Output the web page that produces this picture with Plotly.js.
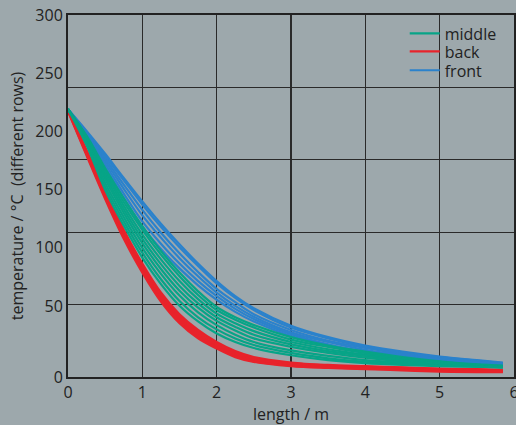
<!DOCTYPE html>
<html>
<head>
<meta charset="utf-8">
<script src="https://cdn.plot.ly/plotly-3.0.1.min.js"></script>
<style>
  html, body { margin: 0; padding: 0; background: #9da8ac; }
  #chart { width: 516px; height: 425px; }
</style>
</head>
<body>
<div id="chart"></div>
<script>
// length / m
var lengthM = [0, 0.25, 0.5, 0.75, 1, 1.25, 1.5, 1.75, 2, 2.25, 2.5, 3, 3.5, 4, 4.5, 5, 5.5, 5.85];

// front rows (blue)
var front1 = [222, 204, 185, 165, 145.5, 127, 110, 94, 79.5, 67, 57, 42.5, 33, 26, 21, 17, 14, 12];
var front2 = [222, 203, 183, 163, 143, 124.5, 107.5, 92, 77.5, 65.5, 55.5, 41, 32, 25, 20, 16.5, 13.5, 11.5];
var front3 = [222, 202, 181, 159.5, 138.5, 119.5, 102.5, 87, 73, 62, 52, 39, 30, 24, 19, 15.5, 13, 11];
var front4 = [222, 201, 179, 156, 134, 115.5, 98.5, 83.5, 70, 59, 50, 37, 29, 22.5, 18, 15, 12.5, 11];
var front5 = [222, 199.5, 176.5, 152, 129, 110.5, 94, 79.5, 67, 56.5, 48, 35.5, 27, 21, 17, 14, 12, 10.5];
var front6 = [222, 198, 174, 148.5, 124.5, 106, 90, 76, 64, 54, 46, 34, 26, 20, 16, 13, 11, 10];

// middle rows (green)
var middle1 = [222, 200, 173, 148, 125, 104.5, 86.5, 71, 58, 49.5, 43, 33, 26, 21, 16.5, 13, 10.5, 9.5];
var middle2 = [222, 199, 171, 145, 122, 101.5, 83.5, 68, 55.5, 47.5, 41, 31, 25, 20, 15.5, 12.5, 10, 9];
var middle3 = [222, 198, 169, 142, 118, 97.5, 79.5, 64.5, 52.5, 44.5, 38, 29, 23, 18.5, 15, 12, 10, 9];
var middle4 = [222, 197, 166.5, 139, 114.5, 93.5, 75.5, 61, 49.5, 41.5, 35, 27, 21.5, 17.5, 14, 11.5, 9.5, 8.5];
var middle5 = [222, 196, 164, 136, 111, 89.5, 71.5, 57.5, 46.5, 38.5, 32, 25, 20, 16, 13, 11, 9, 8.5];
var middle6 = [222, 195, 161, 132.5, 107, 85.5, 67.5, 53.5, 43, 35, 29, 22, 17.5, 14, 12, 10, 9, 8];
var middle7 = [222, 194, 158, 129, 103, 81, 63, 49.5, 39.5, 32, 26.5, 20, 15.5, 12.5, 11, 9.5, 8.5, 8];
var middle8 = [222, 192, 155, 125.5, 99, 77, 59, 46, 36, 29, 24, 18, 14, 11.5, 10, 9, 8.5, 8];

// back rows (red)
var back1 = [222, 188, 154.5, 122, 94, 70, 52, 39, 29, 21.5, 16.5, 12, 10, 9, 8, 7, 6.5, 6];
var back2 = [222, 187, 153, 120.5, 92.5, 68.5, 50.5, 37.5, 28, 20.5, 15.5, 11.5, 9.5, 8.5, 7.5, 6.5, 6, 5.5];
var back3 = [221, 186, 151.5, 119, 91, 67, 49, 36, 26.5, 19.5, 15, 11, 9, 8, 7, 6, 5.5, 5];
var back4 = [221, 185.5, 150.5, 117.5, 89.5, 65.5, 47.5, 34.5, 25.5, 18.5, 14, 10.5, 8.5, 7.5, 6.5, 5.5, 5, 4.5];
var back5 = [220.5, 184.5, 149, 116, 88, 64, 46, 33, 24.5, 17.5, 13, 9.5, 8, 7, 6, 5, 4.5, 4.5];
var back6 = [220, 183.5, 147.5, 114.5, 86.5, 62.5, 44.5, 32, 23.5, 16.5, 12.5, 9, 7.5, 6.5, 5.5, 4.5, 4, 4];

// y tick labels and where they sit on the drawn scale
var yTickText = ['0', '50', '100', '150', '200', '250', '300'];
var yTickPos = [0, 58.8, 107.7, 155.4, 203.4, 251.9, 300];
var xTickVals = [0, 1, 2, 3, 4, 5, 6];

var groups = [
  {name: 'back', color: '#e8232b', legend: 'legend2', series: [back1, back2, back3, back4, back5, back6]},
  {name: 'front', color: '#2b82cc', legend: 'legend3', series: [front1, front2, front3, front4, front5, front6]},
  {name: 'middle', color: '#07a487', legend: 'legend', series: [middle1, middle2, middle3, middle4, middle5, middle6, middle7, middle8]}
];

var traces = [];
groups.forEach(function (g) {
  g.series.forEach(function (s, i) {
    traces.push({
      type: 'scatter', mode: 'lines', x: lengthM, y: s,
      name: g.name, legendgroup: g.name, legend: g.legend,
      showlegend: i === 0,
      line: {color: g.color, width: 2.2, shape: 'spline', smoothing: 1},
      hoverinfo: 'x+y+name'
    });
  });
});
// invisible trace to carry the grid axis
traces.push({type: 'scatter', mode: 'lines', x: [0], y: [0], yaxis: 'y2', showlegend: false, hoverinfo: 'skip', line: {width: 0}});

var fontFam = '"Open Sans", "Noto Sans", "DejaVu Sans", sans-serif';
var txt = {family: fontFam, size: 16, color: '#222'};
function legendAt(y) {
  return {x: 0.755, xanchor: 'left', y: y, yanchor: 'top',
          bgcolor: 'rgba(0,0,0,0)', borderwidth: 0, font: txt, itemwidth: 30};
}
var layout = {
  width: 516, height: 425,
  margin: {l: 68, r: 2, t: 15, b: 48, pad: 0},
  paper_bgcolor: '#9da8ac',
  plot_bgcolor: '#9da8ac',
  font: txt,
  showlegend: true,
  legend: legendAt(0.996),
  legend2: legendAt(0.946),
  legend3: legendAt(0.894),
  xaxis: {
    range: [0, 6], tickmode: 'array', tickvals: xTickVals,
    showgrid: true, gridcolor: '#2a2a2a', gridwidth: 1.3,
    zeroline: false,
    showline: true, linecolor: '#222', linewidth: 2, mirror: true,
    ticks: '', ticklen: 0, ticklabeloverflow: 'allow',
    tickfont: txt,
    title: {text: 'length / m', font: txt, standoff: 4}
  },
  yaxis: {
    range: [0, 300],
    tickmode: 'array', tickvals: yTickPos, ticktext: yTickText,
    showgrid: false, zeroline: false,
    showline: true, linecolor: '#222', linewidth: 2, mirror: true,
    ticks: '', ticklen: 0,
    tickfont: txt,
    title: {text: 'temperature / °C  (different rows)', font: txt, standoff: 8}
  },
  yaxis2: {
    range: [0, 300], overlaying: 'y', side: 'left',
    tickmode: 'linear', tick0: 0, dtick: 60,
    showgrid: true, gridcolor: '#2a2a2a', gridwidth: 1.3,
    zeroline: false, showticklabels: false, showline: false, ticks: ''
  }
};

Plotly.newPlot('chart', traces, layout, {displayModeBar: false, staticPlot: true});
</script>
</body>
</html>
